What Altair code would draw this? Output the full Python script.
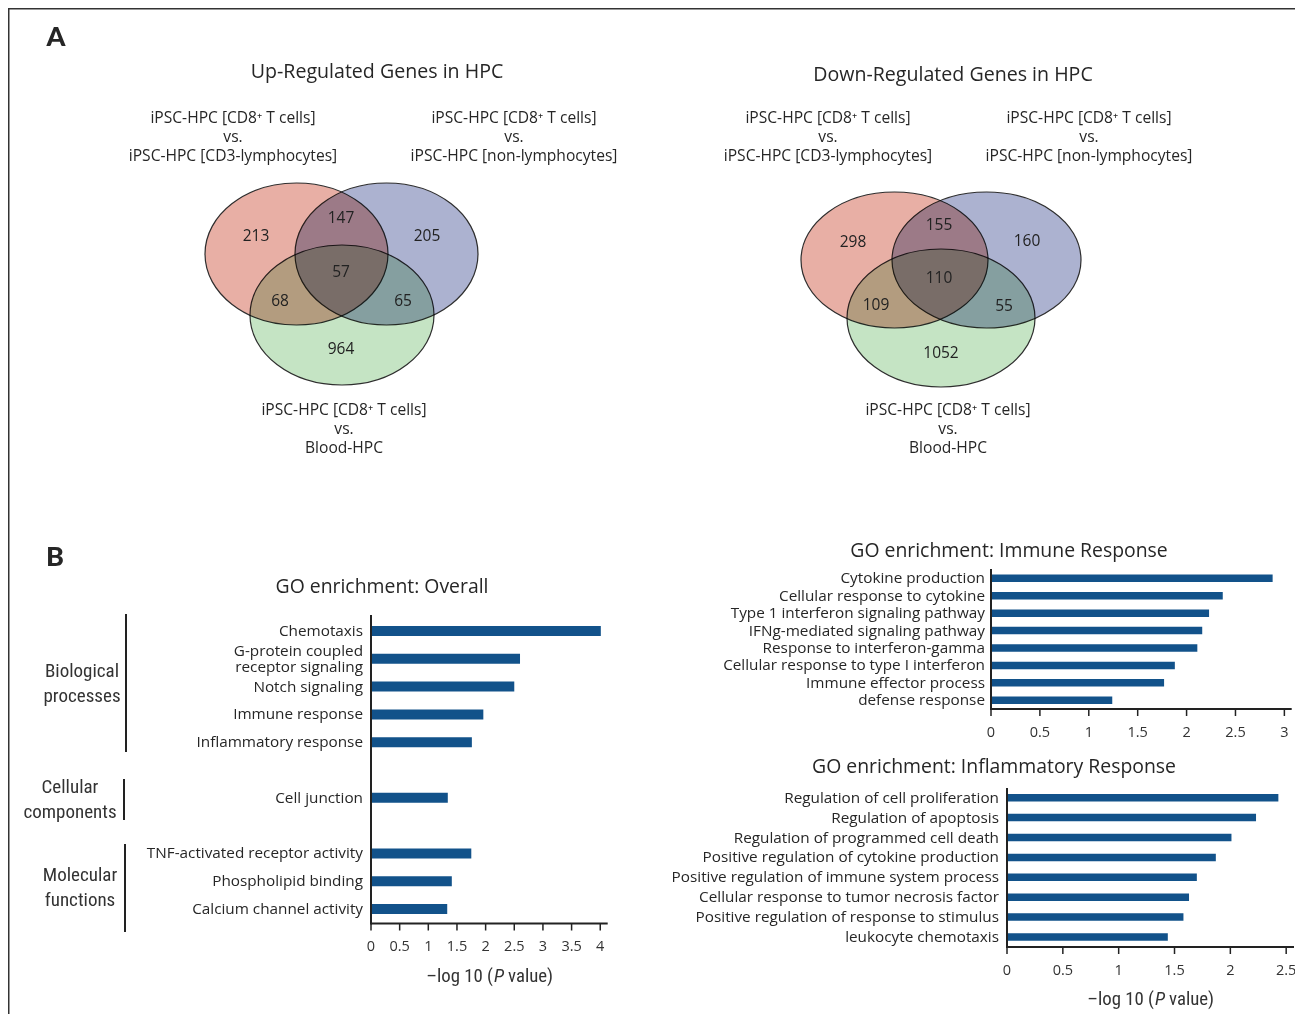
import altair as alt
import pandas as pd

W, H = 1287, 1006
OFF = 8


def P(v):
    return v - OFF


FONT = "Open Sans"
COND = "Roboto Condensed, Noto Sans ExtraCondensed, Noto Sans Condensed, Open Sans Condensed, DejaVu Sans Condensed, Liberation Sans Narrow, Lato"
INK = "#262626"
BAR = "#12528a"

# ------------------------------------------------------------------ data
venn_up_counts = [213, 147, 205, 57, 68, 65, 964]
venn_down_counts = [298, 155, 160, 110, 109, 55, 1052]

set_a = "iPSC-HPC [CD8\u207a T cells]\nvs.\niPSC-HPC [CD3-lymphocytes]"
set_b = "iPSC-HPC [CD8\u207a T cells]\nvs.\niPSC-HPC [non-lymphocytes]"
set_c = "iPSC-HPC [CD8\u207a T cells]\nvs.\nBlood-HPC"
venn_set_colors = ["#e8afa5", "#acb2d0", "#c5e4c4"]

overall_keys = ["chem", "gpcr", "notch", "immune", "inflam", "gap1", "cellj", "gap2", "tnf", "phospho", "calcium"]
overall_terms = ["Chemotaxis", "G-protein coupled\nreceptor signaling", "Notch signaling",
                 "Immune response", "Inflammatory response", "Cell junction",
                 "TNF-activated receptor activity", "Phospholipid binding", "Calcium channel activity"]
overall_term_keys = ["chem", "gpcr", "notch", "immune", "inflam", "cellj", "tnf", "phospho", "calcium"]
overall_values = [4.01, 2.60, 2.50, 1.96, 1.76, 1.34, 1.75, 1.41, 1.33]
overall_groups = ["Biological\nprocesses", "Cellular\ncomponents", "Molecular\nfunctions"]
overall_ticks = [0, 0.5, 1, 1.5, 2, 2.5, 3, 3.5, 4]

immune_terms = ["Cytokine production", "Cellular response to cytokine",
                "Type 1 interferon signaling pathway", "IFNg-mediated signaling pathway",
                "Response to interferon-gamma", "Cellular response to type I interferon",
                "Immune effector process", "defense response"]
immune_values = [2.88, 2.37, 2.23, 2.16, 2.11, 1.88, 1.77, 1.24]
immune_ticks = [0, 0.5, 1, 1.5, 2, 2.5, 3]

inflam_terms = ["Regulation of cell proliferation", "Regulation of apoptosis",
                "Regulation of programmed cell death", "Positive regulation of cytokine production",
                "Positive regulation of immune system process", "Cellular response to tumor necrosis factor",
                "Positive regulation of response to stimulus", "leukocyte chemotaxis"]
inflam_values = [2.43, 2.23, 2.01, 1.87, 1.70, 1.63, 1.58, 1.44]
inflam_ticks = [0, 0.5, 1, 1.5, 2, 2.5]

# ------------------------------------------------------------------ layout (image pixels)
venn_up_label_pos = [(256, 236), (341, 218), (427, 236), (341, 272), (280, 301), (403, 301), (341, 349)]
venn_down_label_pos = [(853, 242), (939, 225), (1027, 241), (939, 278), (876, 305), (1004, 306), (941, 353)]
# (cx, cy, half-width, half-height)
venn_up_ell = [(296.5, 254, 91.5, 71), (386.5, 254, 91.5, 71), (342, 315, 92, 70)]
venn_down_ell = [(894.5, 260, 93.5, 68), (986.5, 260, 94.5, 68), (941, 318, 94, 69)]

layers = []


def NX(field):
    return alt.X(field, scale=None, axis=None)


def NY(field):
    return alt.Y(field, scale=None, axis=None)


def text_layer(rows, size, font=FONT, weight="normal", align="center", style="normal",
               line_height=None, color=INK):
    df = pd.DataFrame(rows, columns=["x", "y", "t"])
    df["x"] = df["x"] - OFF
    df["y"] = df["y"] - OFF
    kw = dict(font=font, fontSize=size, fontWeight=weight, align=align, baseline="middle",
              fontStyle=style, color=color, lineBreak="\n")
    if line_height:
        kw["lineHeight"] = line_height
    return alt.Chart(df).mark_text(**kw).encode(x=NX("x:Q"), y=NY("y:Q"), text="t:N")


# border
layers.append(alt.Chart(pd.DataFrame({"a": [0]})).mark_rule(color="#333", strokeWidth=1.5).encode(
    x=alt.value(0.75), y=alt.value(0), y2=alt.value(H)))
layers.append(alt.Chart(pd.DataFrame({"a": [0]})).mark_rule(color="#333", strokeWidth=1.5).encode(
    x=alt.value(0), x2=alt.value(W), y=alt.value(0.75)))

# panel letters
layers.append(text_layer([(56, 38, "A"), (55, 558, "B")], 27, font="Lato", weight=900))

# ------------------------------------------------------------------ Venn diagrams
ell_rows = []
for ells in (venn_up_ell, venn_down_ell):
    for (cx, cy, hw, hh), col in zip(ells, venn_set_colors):
        r = hh / hw
        path = f"M -1 0 A 1 {r:.4f} 0 1 0 1 0 A 1 {r:.4f} 0 1 0 -1 0 Z"
        ell_rows.append({"x": cx - OFF, "y": cy - OFF, "shape": path, "size": (2 * hw) ** 2, "fill": col})
ell_df = pd.DataFrame(ell_rows)
layers.append(alt.Chart(ell_df).mark_point(filled=True, opacity=1, stroke="#2e2e2e", strokeWidth=1.2,
                                            blend="multiply").encode(
    x=NX("x:Q"), y=NY("y:Q"),
    shape=alt.Shape("shape:N", scale=None, legend=None),
    size=alt.Size("size:Q", scale=None, legend=None),
    fill=alt.Fill("fill:N", scale=None, legend=None)))

cnt_rows = [(x, y, str(c)) for (x, y), c in zip(venn_up_label_pos, venn_up_counts)]
cnt_rows += [(x, y, str(c)) for (x, y), c in zip(venn_down_label_pos, venn_down_counts)]
layers.append(text_layer(cnt_rows, 15.5, color="#222"))

layers.append(text_layer([(377, 72, "Up-Regulated Genes in HPC"), (953, 75, "Down-Regulated Genes in HPC")], 19.6))
# multi-line blocks: y is the first line
layers.append(text_layer([(233, 118, set_a), (514, 118, set_b), (344, 410, set_c),
                          (828, 118, set_a), (1089, 118, set_b), (948, 410, set_c)], 15.6, line_height=19))


# ------------------------------------------------------------------ bar charts
def bar_panel(keys, domain_keys, labels, values, ticks, xmax, x0px, x1px, y0px, y1px,
              bar_h, axis_y, axis_top, label_x, tick_label_y, label_size=15.3):
    xs = alt.Scale(domain=[0, xmax], range=[P(x0px), P(x1px)], nice=False, zero=False)
    ys = alt.Scale(type="point", domain=domain_keys, range=[P(y0px), P(y1px)], padding=0)
    df = pd.DataFrame({"k": keys, "lab": labels, "v": values})
    df["n"] = df["lab"].str.count("\n")
    out = []
    out.append(alt.Chart(df).mark_bar(height=bar_h, color=BAR).encode(
        x=alt.X("v:Q", scale=xs, axis=None), y=alt.Y("k:N", scale=ys, axis=None)))
    lh = 16.5
    for n in sorted(df["n"].unique()):
        sub = df[df["n"] == n]
        out.append(alt.Chart(sub).mark_text(align="right", baseline="middle", font=FONT, fontSize=label_size,
                                            color=INK, lineBreak="\n", lineHeight=lh,
                                            dy=-n * lh / 2).encode(
            x=alt.value(P(label_x)), y=alt.Y("k:N", scale=ys, axis=None), text="lab:N"))
    dom = pd.DataFrame({"a": [0], "b": [xmax]})
    out.append(alt.Chart(dom).mark_rule(color="#222", strokeWidth=2).encode(
        x=alt.X("a:Q", scale=xs, axis=None), x2="b:Q", y=alt.value(P(axis_y))))
    out.append(alt.Chart(dom).mark_rule(color="#222", strokeWidth=2).encode(
        x=alt.X("a:Q", scale=xs, axis=None), y=alt.value(P(axis_top)), y2=alt.value(P(axis_y) + 1)))
    tdf = pd.DataFrame({"t": ticks, "s": [("%g" % t) for t in ticks]})
    out.append(alt.Chart(tdf).mark_rule(color="#222", strokeWidth=1.5).encode(
        x=alt.X("t:Q", scale=xs, axis=None), y=alt.value(P(axis_y)), y2=alt.value(P(axis_y) + 7)))
    out.append(alt.Chart(tdf).mark_text(align="center", baseline="middle", font=FONT, fontSize=14.5,
                                        color="#333").encode(
        x=alt.X("t:Q", scale=xs, axis=None), y=alt.value(P(tick_label_y)), text="s:N"))
    return out


layers += bar_panel(overall_term_keys, overall_keys, overall_terms, overall_values, overall_ticks,
                    4.13, 371, 607.7, 631, 909, 10, 923.5, 615, 363, 947)
layers += bar_panel(immune_terms, immune_terms, immune_terms, immune_values, immune_ticks,
                    3.075, 991, 1291.7, 578.3, 700.3, 7.5, 709, 569, 985, 733)
layers += bar_panel(inflam_terms, inflam_terms, inflam_terms, inflam_values, inflam_ticks,
                    2.57, 1007, 1294, 797.7, 937, 7.5, 947, 788, 999, 971)

# chart titles
layers.append(text_layer([(382, 587, "GO enrichment: Overall"),
                          (1009, 551, "GO enrichment: Immune Response"),
                          (994, 767, "GO enrichment: Inflammatory Response")], 19.4))

# group brackets + labels
br = pd.DataFrame({"x": [126, 124, 125], "y1": [614, 779, 844], "y2": [752, 820, 932]})
br = br - OFF
layers.append(alt.Chart(br).mark_rule(color="#222", strokeWidth=2).encode(
    x=NX("x:Q"), y=NY("y1:Q"), y2="y2:Q"))
layers.append(text_layer([(82, 671, overall_groups[0]), (70, 787, overall_groups[1]),
                          (80, 875, overall_groups[2])], 19, font=COND, line_height=25, color="#333"))

# axis titles (italic P)
layers.append(text_layer([(493, 976, "\u2013log 10 ("), (1154, 999, "\u2013log 10 (")], 18.8, font=COND,
                         align="right", color="#333"))
layers.append(text_layer([(494, 976, "P"), (1155, 999, "P")], 18.8, font=COND, align="left",
                         style="italic", color="#333"))
layers.append(text_layer([(508, 976, "value)"), (1169, 999, "value)")], 18.8, font=COND, align="left",
                         color="#333"))

chart = alt.layer(*layers).resolve_scale(
    x="independent", y="independent", shape="independent", size="independent", fill="independent"
).properties(width=W, height=H, autosize=alt.AutoSizeParams(type="none"), padding=0,
             background="white").configure_view(stroke=None)

chart.save("out.html", embed_options={"renderer": "svg", "actions": False})
